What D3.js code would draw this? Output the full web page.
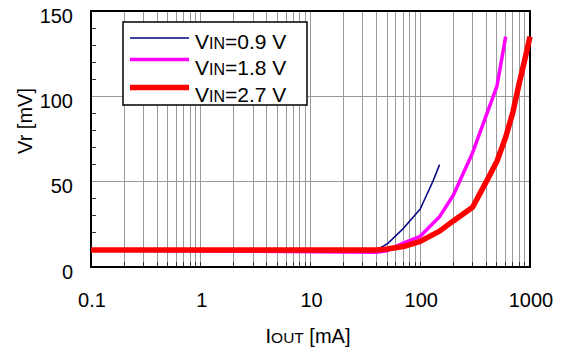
<!DOCTYPE html>
<html>
<head>
<meta charset="utf-8">
<script src="https://cdn.jsdelivr.net/npm/d3@7"></script>
<style>
  html, body { margin: 0; padding: 0; background: #fff; }
  svg { display: block; font-family: "Liberation Sans", Arial, sans-serif; }
</style>
</head>
<body>
<svg id="chart" width="568" height="351"></svg>
<script>
// ---- data ----
const xTickValues = [0.1, 1, 10, 100, 1000];
const xTickLabels = ["0.1", "1", "10", "100", "1000"];
const yTickValues = [0, 50, 100, 150];
const yTickLabels = ["0", "50", "100", "150"];

const seriesNames = ["0.9 V", "1.8 V", "2.7 V"];

const v09X = [0.1, 40, 50, 70, 100, 130, 150];
const v09Y = [10, 10, 13.5, 22.5, 34, 50, 60];

const v18X = [0.1, 40, 50, 70, 100, 150, 200, 300, 400, 500, 600];
const v18Y = [10, 8.7, 9.5, 14, 18, 29.5, 42, 67, 89, 106, 135];

const v27X = [0.1, 40, 50, 70, 100, 150, 200, 300, 400, 500, 600, 700, 800, 900, 1000];
const v27Y = [10, 10, 10.5, 12, 15, 21, 27, 35, 50, 62, 76, 91, 108, 122, 135];

const seriesColors = ["#000080", "#ff00ff", "#ff0000"];
const seriesWidths = [1.5, 3.5, 5.5];

// ---- layout ----
const svg = d3.select("#chart");
const pL = 91, pR = 530, pT = 11, pB = 267;

const x = d3.scaleLog().domain([0.1, 1000]).range([pL, pR]);
const y = d3.scaleLinear().domain([0, 150]).range([pB, pT]);

// minor values
const gridX = [];
for (let d = -1; d < 3; d++) {
  for (let k = 1; k <= 9; k++) gridX.push(k * Math.pow(10, d));
}
gridX.push(1000);

// vertical grid lines
svg.append("g").selectAll("line").data(gridX.filter(v => v > 0.1 && v < 1000)).join("line")
  .attr("x1", d => x(d)).attr("x2", d => x(d))
  .attr("y1", pT).attr("y2", pB)
  .attr("stroke", "#999").attr("stroke-width", 1).attr("shape-rendering", "crispEdges");

// horizontal grid lines
svg.append("g").selectAll("line").data([50, 100]).join("line")
  .attr("x1", pL).attr("x2", pR)
  .attr("y1", d => y(d)).attr("y2", d => y(d))
  .attr("stroke", "#999").attr("stroke-width", 1).attr("shape-rendering", "crispEdges");

// y minor ticks (inside)
const yMinor = d3.range(10, 150, 10).filter(v => v % 50 !== 0);
svg.append("g").selectAll("line").data(yMinor).join("line")
  .attr("x1", pL).attr("x2", pL + 5)
  .attr("y1", d => y(d)).attr("y2", d => y(d))
  .attr("stroke", "#333").attr("stroke-width", 1).attr("shape-rendering", "crispEdges");

// x ticks (inside, bottom)
svg.append("g").selectAll("line").data(gridX).join("line")
  .attr("x1", d => x(d)).attr("x2", d => x(d))
  .attr("y1", pB).attr("y2", pB - 5)
  .attr("stroke", "#333").attr("stroke-width", 1).attr("shape-rendering", "crispEdges");

// frame
svg.append("rect")
  .attr("x", pL).attr("y", pT).attr("width", pR - pL).attr("height", pB - pT)
  .attr("fill", "none").attr("stroke", "#000").attr("stroke-width", 2);

// tick labels
svg.append("g").selectAll("text").data(yTickValues).join("text")
  .attr("x", 73).attr("y", d => y(d) + 11.5)
  .attr("text-anchor", "end").attr("font-size", 20).attr("fill", "#000")
  .text((d, i) => yTickLabels[i]);

svg.append("g").selectAll("text").data(xTickValues).join("text")
  .attr("x", d => x(d) + 1).attr("y", 307)
  .attr("text-anchor", "middle").attr("font-size", 20).attr("fill", "#000")
  .text((d, i) => xTickLabels[i]);

// axis titles
const xt = svg.append("text").attr("x", 308).attr("y", 343)
  .attr("text-anchor", "middle").attr("font-size", 20).attr("fill", "#000");
xt.append("tspan").text("I");
xt.append("tspan").attr("font-size", 15.5).text("OUT");
xt.append("tspan").text(" [mA]");

svg.append("text")
  .attr("transform", "translate(32,121) rotate(-90)")
  .attr("text-anchor", "middle").attr("font-size", 20).attr("fill", "#000")
  .text("Vr [mV]");

// series
const line = d3.line().x(d => x(d[0])).y(d => y(d[1]));
const series = [
  v09X.map((v, i) => [v, v09Y[i]]),
  v18X.map((v, i) => [v, v18Y[i]]),
  v27X.map((v, i) => [v, v27Y[i]])
];
svg.append("g").selectAll("path").data(series).join("path")
  .attr("d", d => line(d))
  .attr("fill", "none")
  .attr("stroke", (d, i) => seriesColors[i])
  .attr("stroke-width", (d, i) => seriesWidths[i])
  .attr("stroke-linejoin", "round");

// legend
const lg = svg.append("g");
lg.append("rect").attr("x", 123).attr("y", 22).attr("width", 184).attr("height", 83)
  .attr("fill", "#fff").attr("stroke", "#000").attr("stroke-width", 1.5);
const legendLineY = [38, 59.5, 87.5];
const legendTextY = [49, 75, 101.5];
seriesNames.forEach((name, i) => {
  lg.append("line").attr("x1", 130).attr("x2", 189)
    .attr("y1", legendLineY[i]).attr("y2", legendLineY[i])
    .attr("stroke", seriesColors[i]).attr("stroke-width", seriesWidths[i]);
  const t = lg.append("text").attr("x", 195).attr("y", legendTextY[i])
    .attr("font-size", 21).attr("fill", "#000");
  t.append("tspan").text("V");
  t.append("tspan").attr("font-size", 16).text("IN");
  t.append("tspan").text("=" + name);
});
</script>
</body>
</html>
